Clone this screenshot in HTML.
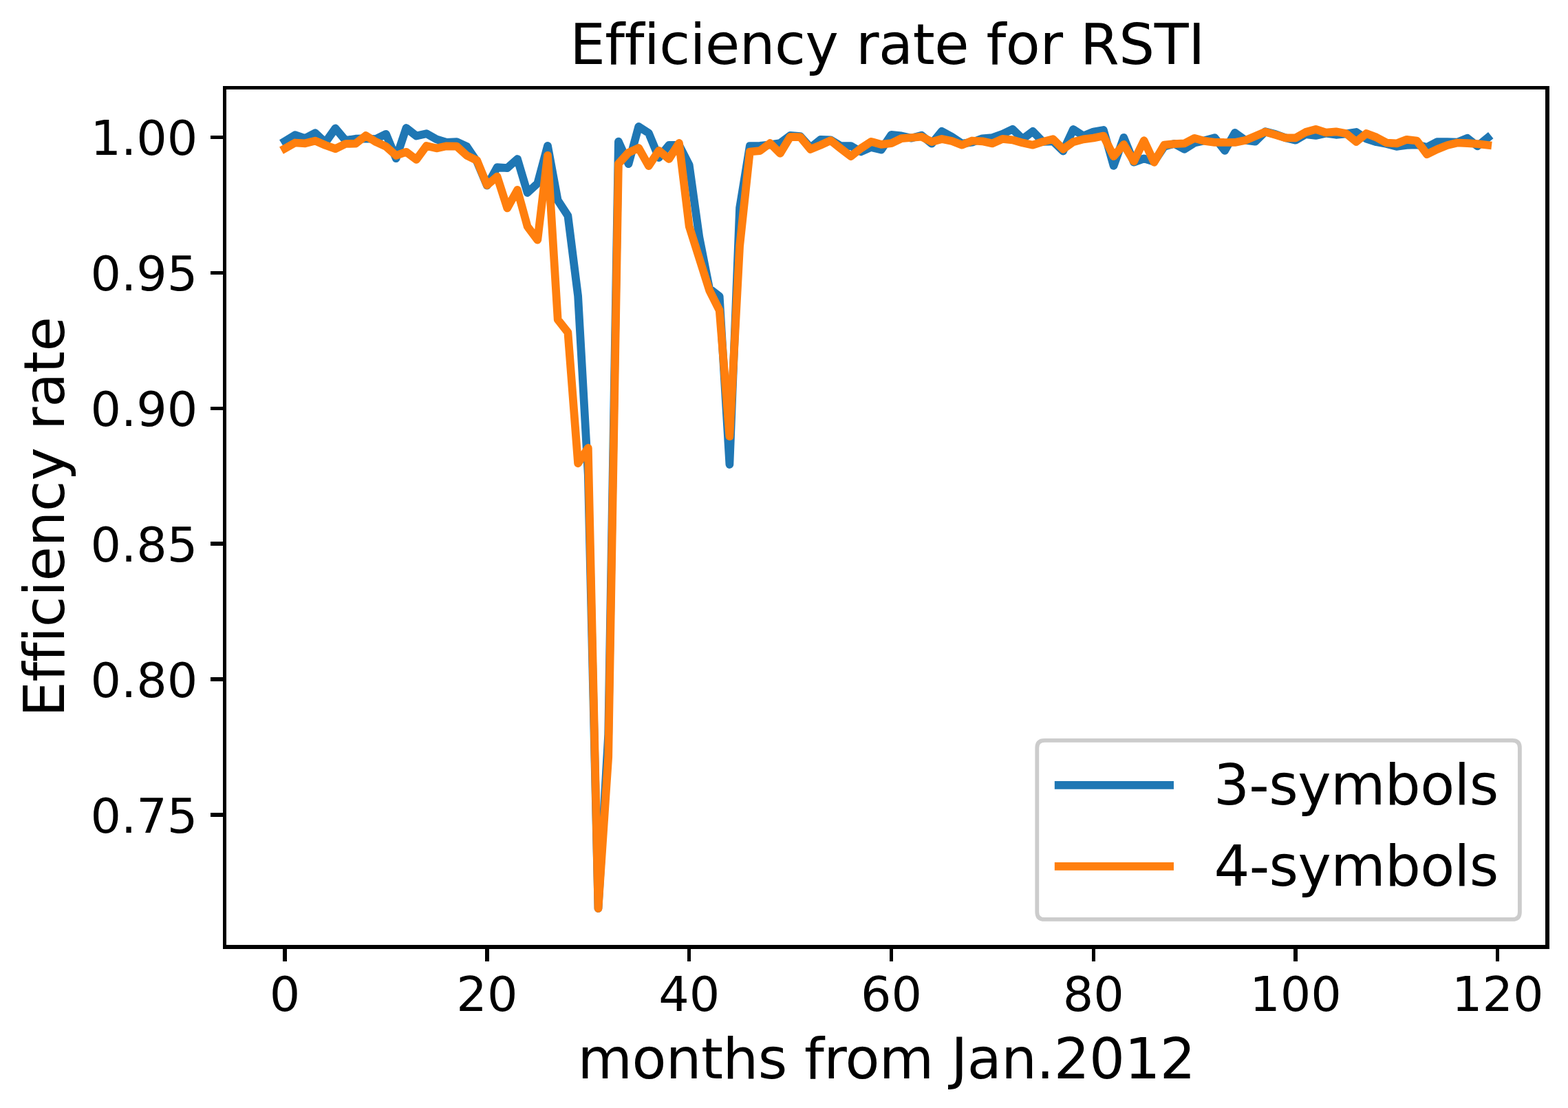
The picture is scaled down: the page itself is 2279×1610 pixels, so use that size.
<!DOCTYPE html><html><head><meta charset="utf-8"><title>Efficiency rate for RSTI</title><style>html,body{margin:0;padding:0;background:#fff;overflow:hidden}svg{display:block}</style></head><body>
<svg width="2279" height="1610" viewBox="0 0 2279 1610">
<rect x="0" y="0" width="2279" height="1610" fill="#ffffff"/>
<defs><clipPath id="c"><rect x="326.5" y="127.5" width="1922.5" height="1248.55"/></clipPath></defs>
<polyline points="414.1,205.2 428.8,196.2 443.5,201.0 458.2,193.3 472.9,207.0 487.5,186.5 502.2,204.1 516.9,201.7 531.6,201.3 546.3,202.0 561.0,194.8 575.7,230.2 590.4,186.0 605.1,197.5 619.8,194.2 634.4,202.4 649.1,206.9 663.8,206.2 678.5,212.9 693.2,234.8 707.9,269.6 722.6,243.2 737.3,244.2 752.0,231.0 766.6,280.0 781.3,266.5 796.0,211.9 810.7,291.0 825.4,313.5 840.1,430.0 854.8,690.0 869.5,1320.0 884.2,1067.0 898.9,205.7 913.5,238.2 928.2,184.0 942.9,193.4 957.6,229.0 972.3,210.9 987.0,210.8 1001.7,239.6 1016.4,345.0 1031.1,419.5 1045.7,430.7 1060.4,675.0 1075.1,302.0 1089.8,212.2 1104.5,211.8 1119.2,210.3 1133.9,208.0 1148.6,196.9 1163.3,198.2 1178.0,214.5 1192.6,202.9 1207.3,203.4 1222.0,212.0 1236.7,212.0 1251.4,220.5 1266.1,214.0 1280.8,217.6 1295.5,195.9 1310.2,197.4 1324.8,200.7 1339.5,196.7 1354.2,208.7 1368.9,190.8 1383.6,199.0 1398.3,208.6 1413.0,206.7 1427.7,201.3 1442.4,200.0 1457.1,194.7 1471.7,187.8 1486.4,202.0 1501.1,190.9 1515.8,206.0 1530.5,205.3 1545.2,219.6 1559.9,188.0 1574.6,197.4 1589.3,191.5 1603.9,189.0 1618.6,240.9 1633.3,199.9 1648.0,235.7 1662.7,230.4 1677.4,235.0 1692.1,212.9 1706.8,208.8 1721.5,216.9 1736.2,207.5 1750.8,204.2 1765.5,200.1 1780.2,218.8 1794.9,192.9 1809.6,203.6 1824.3,205.7 1839.0,191.2 1853.7,195.0 1868.4,200.3 1883.1,203.7 1897.7,195.1 1912.4,196.9 1927.1,193.8 1941.8,195.8 1956.5,194.4 1971.2,192.0 1985.9,201.6 2000.6,206.3 2015.3,209.0 2029.9,212.9 2044.6,211.0 2059.3,210.3 2074.0,214.0 2088.7,206.1 2103.4,206.1 2118.1,206.7 2132.8,200.8 2147.5,212.3 2162.2,200.3" fill="none" stroke="#1f77b4" stroke-width="11.75" stroke-linejoin="round" stroke-linecap="square" clip-path="url(#c)"/>
<polyline points="414.1,215.8 428.8,207.5 443.5,208.3 458.2,204.6 472.9,211.0 487.5,216.1 502.2,209.0 516.9,208.7 531.6,197.1 546.3,206.2 561.0,212.8 575.7,226.0 590.4,220.8 605.1,231.9 619.8,212.0 634.4,215.4 649.1,212.3 663.8,212.6 678.5,226.0 693.2,233.1 707.9,269.0 722.6,256.6 737.3,302.4 752.0,276.0 766.6,329.0 781.3,348.6 796.0,225.8 810.7,464.4 825.4,483.0 840.1,673.4 854.8,650.9 869.5,1320.0 884.2,1100.0 898.9,238.0 913.5,221.8 928.2,215.0 942.9,241.1 957.6,218.9 972.3,231.0 987.0,208.0 1001.7,329.1 1016.4,375.5 1031.1,422.0 1045.7,451.0 1060.4,634.1 1075.1,358.0 1089.8,220.5 1104.5,219.1 1119.2,208.1 1133.9,222.9 1148.6,198.8 1163.3,199.2 1178.0,216.9 1192.6,210.8 1207.3,204.1 1222.0,215.8 1236.7,227.1 1251.4,215.5 1266.1,205.8 1280.8,209.9 1295.5,208.2 1310.2,201.1 1324.8,200.0 1339.5,198.7 1354.2,206.1 1368.9,202.0 1383.6,205.0 1398.3,210.7 1413.0,204.5 1427.7,205.3 1442.4,208.4 1457.1,201.9 1471.7,203.3 1486.4,207.6 1501.1,210.7 1515.8,205.9 1530.5,202.1 1545.2,216.6 1559.9,206.3 1574.6,202.4 1589.3,200.5 1603.9,197.6 1618.6,227.1 1633.3,210.0 1648.0,234.4 1662.7,204.2 1677.4,235.8 1692.1,210.6 1706.8,209.2 1721.5,208.4 1736.2,200.8 1750.8,204.9 1765.5,206.9 1780.2,207.0 1794.9,206.9 1809.6,204.1 1824.3,197.9 1839.0,191.6 1853.7,195.9 1868.4,200.3 1883.1,200.3 1897.7,192.0 1912.4,187.9 1927.1,192.6 1941.8,191.3 1956.5,194.0 1971.2,206.0 1985.9,194.0 2000.6,199.6 2015.3,207.5 2029.9,208.4 2044.6,202.8 2059.3,204.5 2074.0,224.1 2088.7,217.0 2103.4,211.1 2118.1,207.5 2132.8,208.2 2147.5,209.1 2162.2,210.8" fill="none" stroke="#ff7f0e" stroke-width="11.75" stroke-linejoin="round" stroke-linecap="square" clip-path="url(#c)"/>
<line x1="326.5" y1="127.5" x2="326.5" y2="1376.05" stroke="#000" stroke-width="5.25" stroke-linecap="square" shape-rendering="crispEdges"/>
<line x1="2249.0" y1="127.5" x2="2249.0" y2="1376.05" stroke="#000" stroke-width="5.25" stroke-linecap="square" shape-rendering="crispEdges"/>
<line x1="326.5" y1="127.5" x2="2249.0" y2="127.5" stroke="#000" stroke-width="5.25" stroke-linecap="square" shape-rendering="crispEdges"/>
<line x1="326.5" y1="1376.05" x2="2249.0" y2="1376.05" stroke="#000" stroke-width="5.25" stroke-linecap="square" shape-rendering="crispEdges"/>
<line x1="414.10" y1="1376.05" x2="414.10" y2="1396.75" stroke="#000" stroke-width="5.25" shape-rendering="crispEdges"/>
<text x="414.10" y="1468.7" text-anchor="middle" style="font-family:'DejaVu Sans','Liberation Sans',sans-serif;font-variant-ligatures:none;font-feature-settings:'liga' 0,'clig' 0;font-size:70.0px">0</text>
<line x1="707.89" y1="1376.05" x2="707.89" y2="1396.75" stroke="#000" stroke-width="5.25" shape-rendering="crispEdges"/>
<text x="707.89" y="1468.7" text-anchor="middle" style="font-family:'DejaVu Sans','Liberation Sans',sans-serif;font-variant-ligatures:none;font-feature-settings:'liga' 0,'clig' 0;font-size:70.0px">20</text>
<line x1="1001.68" y1="1376.05" x2="1001.68" y2="1396.75" stroke="#000" stroke-width="5.25" shape-rendering="crispEdges"/>
<text x="1001.68" y="1468.7" text-anchor="middle" style="font-family:'DejaVu Sans','Liberation Sans',sans-serif;font-variant-ligatures:none;font-feature-settings:'liga' 0,'clig' 0;font-size:70.0px">40</text>
<line x1="1295.47" y1="1376.05" x2="1295.47" y2="1396.75" stroke="#000" stroke-width="5.25" shape-rendering="crispEdges"/>
<text x="1295.47" y="1468.7" text-anchor="middle" style="font-family:'DejaVu Sans','Liberation Sans',sans-serif;font-variant-ligatures:none;font-feature-settings:'liga' 0,'clig' 0;font-size:70.0px">60</text>
<line x1="1589.26" y1="1376.05" x2="1589.26" y2="1396.75" stroke="#000" stroke-width="5.25" shape-rendering="crispEdges"/>
<text x="1589.26" y="1468.7" text-anchor="middle" style="font-family:'DejaVu Sans','Liberation Sans',sans-serif;font-variant-ligatures:none;font-feature-settings:'liga' 0,'clig' 0;font-size:70.0px">80</text>
<line x1="1883.05" y1="1376.05" x2="1883.05" y2="1396.75" stroke="#000" stroke-width="5.25" shape-rendering="crispEdges"/>
<text x="1883.05" y="1468.7" text-anchor="middle" style="font-family:'DejaVu Sans','Liberation Sans',sans-serif;font-variant-ligatures:none;font-feature-settings:'liga' 0,'clig' 0;font-size:70.0px">100</text>
<line x1="2176.84" y1="1376.05" x2="2176.84" y2="1396.75" stroke="#000" stroke-width="5.25" shape-rendering="crispEdges"/>
<text x="2176.84" y="1468.7" text-anchor="middle" style="font-family:'DejaVu Sans','Liberation Sans',sans-serif;font-variant-ligatures:none;font-feature-settings:'liga' 0,'clig' 0;font-size:70.0px">120</text>
<line x1="305.8" y1="199.28" x2="326.5" y2="199.28" stroke="#000" stroke-width="5.25" shape-rendering="crispEdges"/>
<text x="287.4" y="225.38" text-anchor="end" style="font-family:'DejaVu Sans','Liberation Sans',sans-serif;font-variant-ligatures:none;font-feature-settings:'liga' 0,'clig' 0;font-size:70.0px">1.00</text>
<line x1="305.8" y1="396.22" x2="326.5" y2="396.22" stroke="#000" stroke-width="5.25" shape-rendering="crispEdges"/>
<text x="287.4" y="422.32" text-anchor="end" style="font-family:'DejaVu Sans','Liberation Sans',sans-serif;font-variant-ligatures:none;font-feature-settings:'liga' 0,'clig' 0;font-size:70.0px">0.95</text>
<line x1="305.8" y1="593.15" x2="326.5" y2="593.15" stroke="#000" stroke-width="5.25" shape-rendering="crispEdges"/>
<text x="287.4" y="619.25" text-anchor="end" style="font-family:'DejaVu Sans','Liberation Sans',sans-serif;font-variant-ligatures:none;font-feature-settings:'liga' 0,'clig' 0;font-size:70.0px">0.90</text>
<line x1="305.8" y1="790.10" x2="326.5" y2="790.10" stroke="#000" stroke-width="5.25" shape-rendering="crispEdges"/>
<text x="287.4" y="816.20" text-anchor="end" style="font-family:'DejaVu Sans','Liberation Sans',sans-serif;font-variant-ligatures:none;font-feature-settings:'liga' 0,'clig' 0;font-size:70.0px">0.85</text>
<line x1="305.8" y1="987.03" x2="326.5" y2="987.03" stroke="#000" stroke-width="5.25" shape-rendering="crispEdges"/>
<text x="287.4" y="1013.13" text-anchor="end" style="font-family:'DejaVu Sans','Liberation Sans',sans-serif;font-variant-ligatures:none;font-feature-settings:'liga' 0,'clig' 0;font-size:70.0px">0.80</text>
<line x1="305.8" y1="1183.98" x2="326.5" y2="1183.98" stroke="#000" stroke-width="5.25" shape-rendering="crispEdges"/>
<text x="287.4" y="1210.08" text-anchor="end" style="font-family:'DejaVu Sans','Liberation Sans',sans-serif;font-variant-ligatures:none;font-feature-settings:'liga' 0,'clig' 0;font-size:70.0px">0.75</text>
<text x="828.20" y="92.90" textLength="923.10" lengthAdjust="spacing" style="font-family:'DejaVu Sans','Liberation Sans',sans-serif;font-variant-ligatures:none;font-feature-settings:'liga' 0,'clig' 0;font-size:81.67px">Efficiency rate for RSTI</text>
<text x="839.50" y="1567.00" textLength="898.30" lengthAdjust="spacing" style="font-family:'DejaVu Sans','Liberation Sans',sans-serif;font-variant-ligatures:none;font-feature-settings:'liga' 0,'clig' 0;font-size:81.67px">months from Jan.2012</text>
<text transform="translate(93.30,1041.70) rotate(-90)" x="0" y="0" textLength="581.50" lengthAdjust="spacing" style="font-family:'DejaVu Sans','Liberation Sans',sans-serif;font-variant-ligatures:none;font-feature-settings:'liga' 0,'clig' 0;font-size:81.67px">Efficiency rate</text>
<path d="M1518.10,1075.90 L2198.10,1075.90 Q2208.90,1075.90 2208.90,1086.70 L2208.90,1325.15 Q2208.90,1335.95 2198.10,1335.95 L1518.10,1335.95 Q1507.30,1335.95 1507.30,1325.15 L1507.30,1086.70 Q1507.30,1075.90 1518.10,1075.90 Z" fill="#ffffff" fill-opacity="0.8" stroke="#cccccc" stroke-width="5.83"/>
<line x1="1538.7" y1="1140.95" x2="1700.1" y2="1140.95" stroke="#1f77b4" stroke-width="11.75" stroke-linecap="square"/>
<text x="1763.90" y="1169.00" textLength="414.30" lengthAdjust="spacing" style="font-family:'DejaVu Sans','Liberation Sans',sans-serif;font-variant-ligatures:none;font-feature-settings:'liga' 0,'clig' 0;font-size:81.67px">3-symbols</text>
<line x1="1538.7" y1="1258.85" x2="1700.1" y2="1258.85" stroke="#ff7f0e" stroke-width="11.75" stroke-linecap="square"/>
<text x="1764.40" y="1287.00" textLength="413.80" lengthAdjust="spacing" style="font-family:'DejaVu Sans','Liberation Sans',sans-serif;font-variant-ligatures:none;font-feature-settings:'liga' 0,'clig' 0;font-size:81.67px">4-symbols</text>
</svg></body></html>
